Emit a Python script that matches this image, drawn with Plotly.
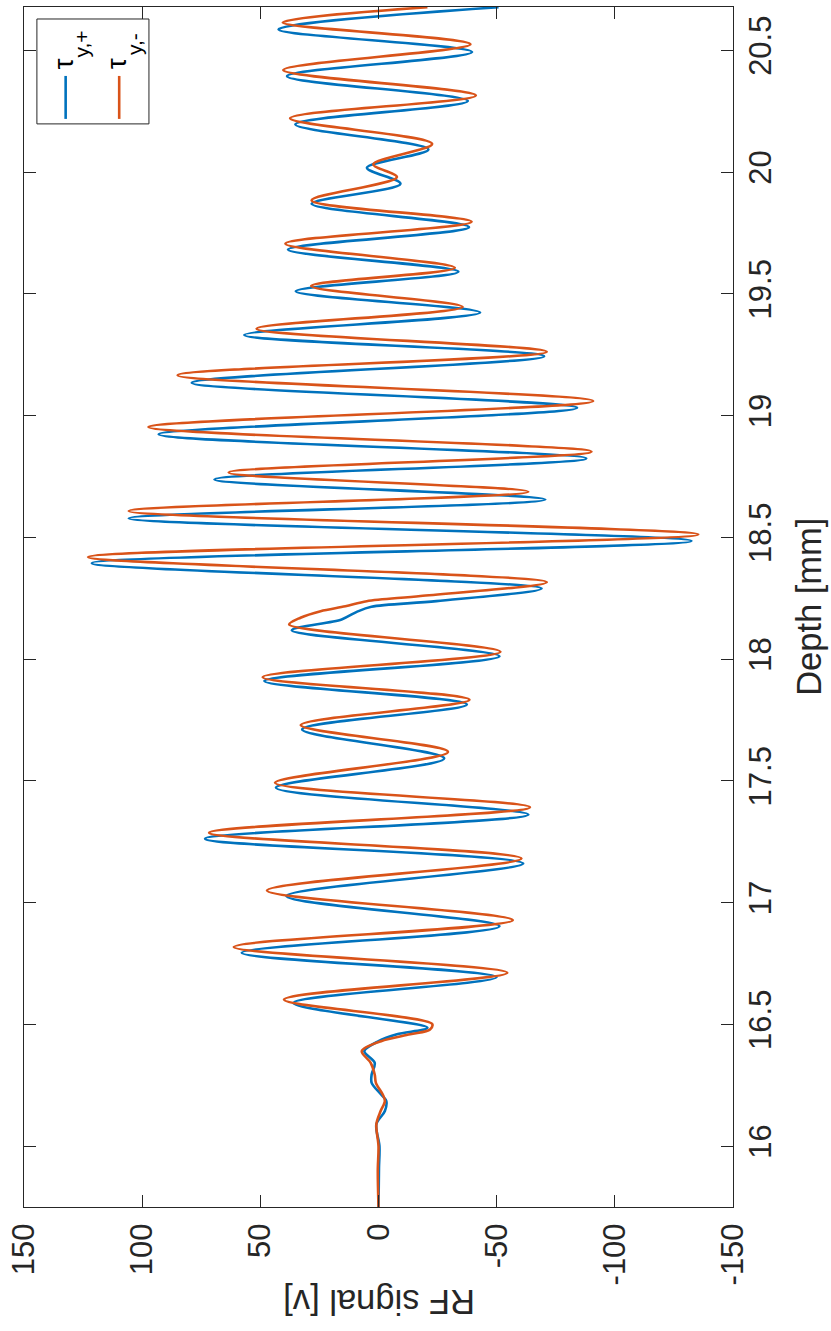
import plotly.graph_objects as go

# ---------------- data ----------------
depth_plus = [15.75, 15.91, 16.0, 16.09, 16.144, 16.185, 16.212, 16.26, 16.294, 16.342, 16.39, 16.431,
              16.459, 16.486, 16.588, 16.694, 16.794, 16.903, 17.027, 17.161, 17.262, 17.362, 17.472,
              17.592, 17.711, 17.814, 17.910, 18.012, 18.118, 18.163, 18.195, 18.215, 18.238, 18.290,
              18.394, 18.485, 18.578, 18.655, 18.738, 18.824, 18.923, 19.032, 19.135, 19.244, 19.331,
              19.423, 19.511, 19.591, 19.682, 19.774, 19.870, 19.952, 20.018, 20.093, 20.196, 20.292,
              20.394, 20.493, 20.586, 20.677]
rf_plus = [0, -0.2, -0.4, 0.9, -2.7, -3.3, -1.1, 2.9, 2.9, 1.6, 6.0, 0,
           -7.8, -20.7, 36, -50, 57.9, -51.2, 39, -61.2, 73.4, -63.4, 43.4,
           -27.8, 32.3, -37.4, 48.3, -51.2, 36.7, 15.6, 9, 3, -24.5, -69,
           121.3, -132.4, 105.7, -70.6, 69.4, -87.9, 93, -84, 79, -70.1, 56.8,
           -43, 35, -33.8, 38.3, -38.3, 28.3, -9.3, 4.9, -21.1, 35.2, -37.8,
           38.7, -39.6, 42.3, -50.8]

depth_minus = [15.75, 15.9, 16.0, 16.09, 16.144, 16.185, 16.212, 16.26, 16.294, 16.342, 16.39, 16.431,
               16.459, 16.479, 16.502, 16.602, 16.712, 16.818, 16.928, 17.050, 17.181, 17.287, 17.392,
               17.492, 17.619, 17.729, 17.833, 17.926, 18.030, 18.142, 18.17, 18.197, 18.217, 18.238,
               18.259, 18.316, 18.419, 18.512, 18.608, 18.687, 18.766, 18.852, 18.953, 19.060, 19.166,
               19.262, 19.357, 19.446, 19.532, 19.607, 19.706, 19.796, 19.884, 19.979, 20.032, 20.116,
               20.221, 20.315, 20.419, 20.525, 20.614, 20.677]
rf_minus = [0, 0.3, 0, 0.9, -0.9, -2.7, -1.8, 1.1, 1.6, 3.3, 7.1, -1.1,
            -13.4, -21.8, -22.7, 40, -54.5, 61.2, -56.8, 47.2, -60.5, 71.7, -64.1,
            43.8, -29.4, 32.9, -38.5, 49, -51.6, 37.8, 33, 24.5, 14, 5,
            -17.8, -71.2, 122.9, -135.3, 105.7, -63.4, 63.4, -90.1, 97.3, -90.8, 85,
            -71.2, 51.6, -35.6, 28.5, -32.3, 39.4, -39.4, 28.3, -7.8, 2.2, -22.7,
            37.4, -41.2, 40.3, -38.9, 40.5, -20.7]

rf_ticks = [150, 100, 50, 0, -50, -100, -150]
rf_ticklabels = ["150", "100", "50", "0", "-50", "-100", "-150"]
depth_ticks = [16, 16.5, 17, 17.5, 18, 18.5, 19, 19.5, 20, 20.5]
depth_ticklabels = ["16", "16.5", "17", "17.5", "18", "18.5", "19", "19.5", "20", "20.5"]
series_symbol = "τ"
series_subs = ["y,+", "y,-"]
series_names = ["τ y,+", "τ y,-"]
series_colors = ["#0072BD", "#D95319"]
x_title = "RF signal [v]"
y_title = "Depth [mm]"

# ---------------- layout geometry ----------------
W_FIG, H_FIG = 831, 1331
L, T, R, B = 18, 6, 733, 1207
PW, PH = R - L, B - T


def px(x):
    return (x - L) / PW


def py(y):
    return 1 - (y - T) / PH


FONT = "Liberation Sans, Arial, Helvetica, sans-serif"
INK = "#262626"
TICK_SIZE = 31
TITLE_SIZE = 34.5

fig = go.Figure()
for d, v, c, n in [(depth_plus, rf_plus, series_colors[0], series_names[0]),
                   (depth_minus, rf_minus, series_colors[1], series_names[1])]:
    fig.add_trace(go.Scatter(x=v, y=d, mode="lines", name=n,
                             line=dict(color=c, width=2.6, shape="spline", smoothing=0.9),
                             showlegend=False))

fig.update_layout(
    width=W_FIG, height=H_FIG,
    margin=dict(l=L, r=W_FIG - R, t=T, b=H_FIG - B),
    paper_bgcolor="white", plot_bgcolor="white",
    font=dict(family=FONT, color=INK, size=TICK_SIZE),
    xaxis=dict(range=[150, -150], tickvals=rf_ticks, ticktext=rf_ticklabels,
               tickangle=-90, ticks="inside", ticklen=12, tickcolor=INK, tickwidth=1,
               showline=True, linecolor=INK, linewidth=1, mirror="ticks",
               showgrid=False, zeroline=False, ticklabelstandoff=3,
               tickfont=dict(size=TICK_SIZE, color=INK, family=FONT)),
    yaxis=dict(range=[15.75, 20.678], tickvals=depth_ticks, ticktext=depth_ticklabels,
               side="right", tickangle=-90, ticks="inside", ticklen=12, tickcolor=INK, tickwidth=1,
               showline=True, linecolor=INK, linewidth=1, mirror="ticks",
               showgrid=False, zeroline=False, ticklabelstandoff=0,
               tickfont=dict(size=TICK_SIZE, color=INK, family=FONT)),
)


def label(text, x, y, angle, size, color=INK):
    fig.add_annotation(text=text, xref="paper", yref="paper", x=px(x), y=py(y),
                       xanchor="center", yanchor="middle", textangle=angle,
                       showarrow=False, font=dict(size=size, color=color, family=FONT))


# axis titles (rotated like the reference)
label(y_title, 809, 606, -90, TITLE_SIZE)
label(x_title, 376, 1302, 180, TITLE_SIZE)

# legend box (rotated)
fig.add_shape(type="rect", xref="paper", yref="paper", x0=px(31), x1=px(144), y0=py(18), y1=py(123),
              line=dict(color=INK, width=1), fillcolor="white", layer="above")
for i, xc in enumerate([60, 114]):
    fig.add_shape(type="line", xref="paper", yref="paper", x0=px(xc), x1=px(xc), y0=py(75), y1=py(118),
                  line=dict(color=series_colors[i], width=2.6), layer="above")
    label(series_symbol, xc - 2, 63, -90, 28, "black")
    label(series_subs[i], xc + 16, 43, -90, 21, "black")

fig.write_html("out.html")
